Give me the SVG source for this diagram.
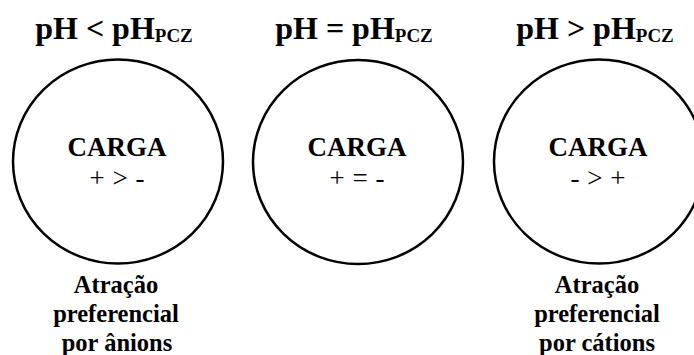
<svg xmlns="http://www.w3.org/2000/svg" width="694" height="355" viewBox="0 0 694 355">
<style>
.t{font-family:"Liberation Serif","Times New Roman",serif;font-weight:bold;font-size:32px;fill:#000;text-anchor:middle}
.s{font-size:19px}
.c{font-family:"Liberation Serif","Times New Roman",serif;font-weight:bold;font-size:27px;fill:#000;text-anchor:middle}
.r{font-family:"Liberation Serif","Times New Roman",serif;font-size:27px;fill:#000;text-anchor:middle;word-spacing:1px}
.b{font-family:"Liberation Serif","Times New Roman",serif;font-weight:bold;font-size:24.5px;fill:#000;text-anchor:middle}
.o{fill:#fff;stroke:#000;stroke-width:2.5}
</style>
<rect width="694" height="355" fill="#fff"/>
<g id="acid">
<text class="t" x="114" y="39">pH &lt; pH<tspan class="s" dy="3">PCZ</tspan></text>
<ellipse class="o" cx="118" cy="161.5" rx="105" ry="102"/>
<text class="c" x="117" y="156">CARGA</text>
<text class="r" x="117" y="187">+ &gt; -</text>
<text class="b" x="116" y="293">Atração</text>
<text class="b" x="116" y="322">preferencial</text>
<text class="b" x="117" y="351">por ânions</text>
</g>
<g id="neutral">
<text class="t" x="354" y="39">pH = pH<tspan class="s" dy="3">PCZ</tspan></text>
<ellipse class="o" cx="358" cy="162" rx="105" ry="102"/>
<text class="c" x="357" y="156">CARGA</text>
<text class="r" x="357" y="187">+ = -</text>
</g>
<g id="basic">
<text class="t" x="595" y="39">pH &gt; pH<tspan class="s" dy="3">PCZ</tspan></text>
<ellipse class="o" cx="599" cy="161.5" rx="105" ry="102"/>
<text class="c" x="598" y="156">CARGA</text>
<text class="r" x="598" y="187">- &gt; +</text>
<text class="b" x="597" y="293">Atração</text>
<text class="b" x="597" y="322">preferencial</text>
<text class="b" x="597" y="351">por cátions</text>
</g>
<g id="connectors"/>
</svg>
